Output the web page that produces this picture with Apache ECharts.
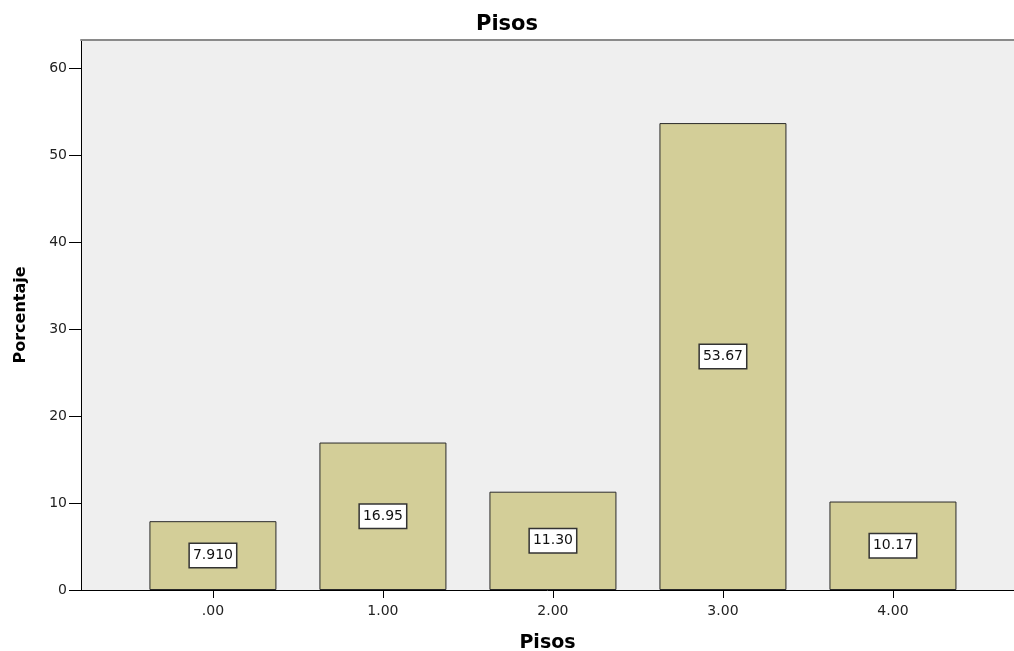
<!DOCTYPE html>
<html>
<head>
<meta charset="utf-8">
<script src="https://cdn.jsdelivr.net/npm/echarts@6/dist/echarts.min.js"></script>
<style>
  html, body { margin: 0; padding: 0; background: #fff; }
  #chart { width: 1014px; height: 651px; }
</style>
</head>
<body>
<div id="chart"></div>
<script>
// Floor-count categories (x positions) and their percentages
const pisosValues = [0, 1, 2, 3, 4];
const porcentaje = [7.910, 16.95, 11.30, 53.67, 10.17];
const yTicks = [0, 10, 20, 30, 40, 50, 60];

const FONT = '"DejaVu Sans", Verdana, sans-serif';

function fmtPiso(v) {
  const s = v.toFixed(2);
  return s.startsWith('0') ? s.slice(1) : s;
}

const chart = echarts.init(document.getElementById('chart'), null, { renderer: 'canvas' });

chart.setOption({
  animation: false,
  backgroundColor: '#ffffff',
  title: {
    text: 'Pisos',
    left: 'center',
    top: 9,
    textStyle: { fontFamily: FONT, fontSize: 21, fontWeight: 'bold', color: '#000' }
  },
  grid: {
    left: 81, right: 0, top: 40, bottom: 61,
    containLabel: false,
    outerBoundsMode: 'none',
    show: true,
    backgroundColor: '#efefef',
    borderWidth: 0
  },
  xAxis: [{
    type: 'value',
    min: -0.776,
    max: 4.712,
    name: 'Pisos',
    nameLocation: 'middle',
    nameGap: 44,
    nameTextStyle: { fontFamily: FONT, fontSize: 19, fontWeight: 'bold', color: '#000' },
    axisLine: { show: true, onZero: false, lineStyle: { color: '#000', width: 1 } },
    axisTick: { show: true, length: 8, customValues: pisosValues, lineStyle: { color: '#000' } },
    axisLabel: {
      customValues: pisosValues,
      formatter: fmtPiso,
      fontFamily: FONT, fontSize: 14, color: '#222', margin: 14
    },
    splitLine: { show: false }
  }, {
    // frame line along the top of the plot area
    type: 'value',
    position: 'top',
    min: -0.776,
    max: 4.712,
    axisLine: { show: true, onZero: false, lineStyle: { color: '#8a8a8a', width: 2 } },
    axisTick: { show: false },
    axisLabel: { show: false },
    splitLine: { show: false }
  }],
  yAxis: {
    type: 'value',
    min: 0,
    max: 63.22,
    name: 'Porcentaje',
    nameLocation: 'middle',
    nameGap: 52,
    nameTextStyle: { fontFamily: FONT, fontSize: 16, fontWeight: 'bold', color: '#000' },
    axisLine: { show: true, onZero: false, lineStyle: { color: '#000', width: 1 } },
    axisTick: { show: true, length: 12, customValues: yTicks, lineStyle: { color: '#000' } },
    axisLabel: {
      customValues: yTicks,
      fontFamily: FONT, fontSize: 14, color: '#222', margin: 14
    },
    splitLine: { show: false }
  },
  series: [{
    type: 'bar',
    xAxisIndex: 0,
    barWidth: 127,
    data: pisosValues.map((x, i) => [x, porcentaje[i]]),
    itemStyle: { color: '#d3ce98', borderColor: '#2a2a2a', borderWidth: 1 },
    label: {
      show: true,
      position: 'inside',
      formatter: p => p.value[1].toPrecision(4),
      fontFamily: FONT,
      fontSize: 14,
      color: '#111',
      backgroundColor: '#ffffff',
      borderColor: '#333',
      borderWidth: 1.5,
      padding: [5, 3, 4, 3]
    }
  }]
});
</script>
</body>
</html>
